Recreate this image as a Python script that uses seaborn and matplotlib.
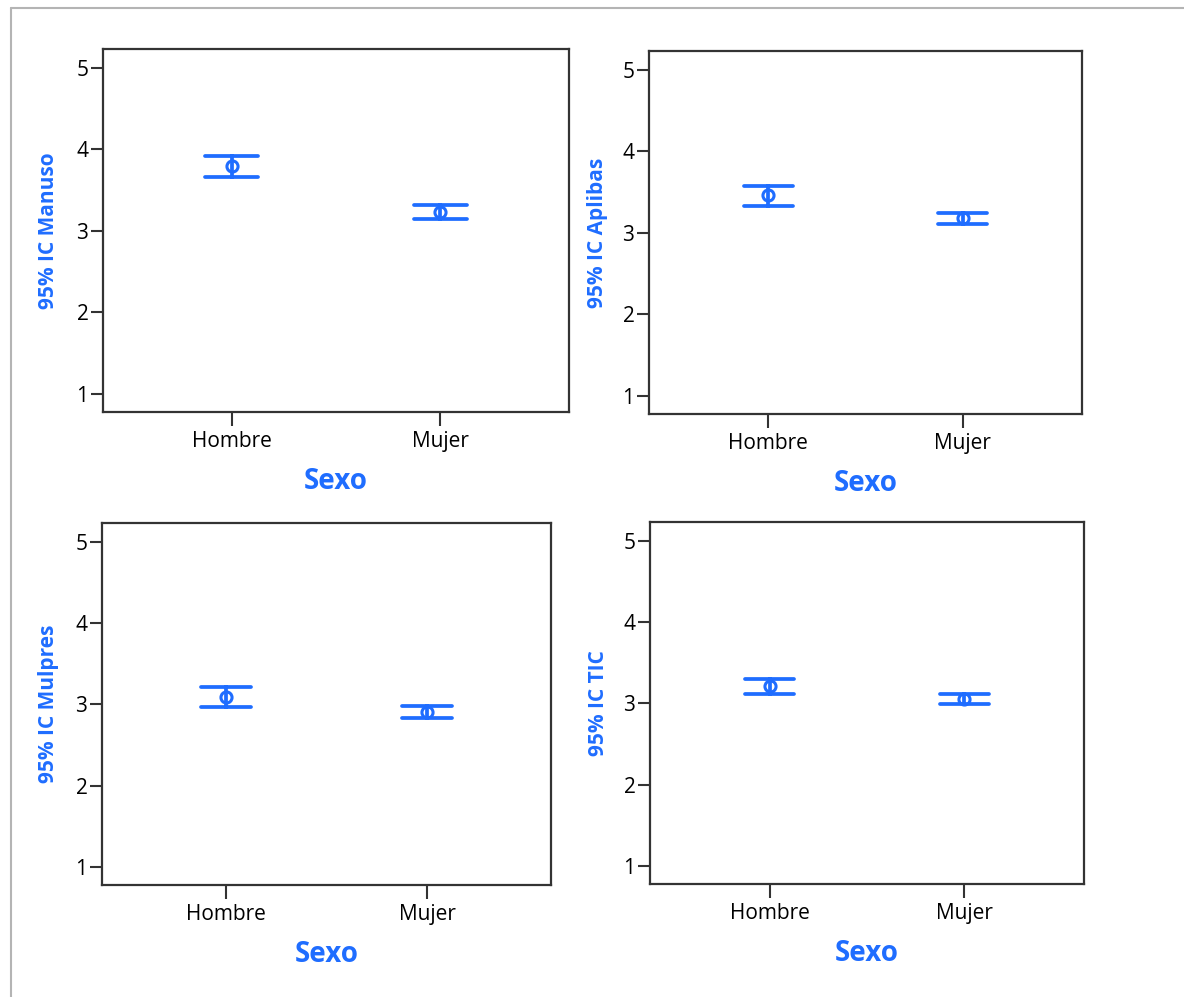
import numpy as np
import pandas as pd
import matplotlib
matplotlib.use("Agg")
import matplotlib.pyplot as plt
from matplotlib.lines import Line2D
import seaborn as sns

# ---- data ----
categories = ["Hombre", "Mujer"]
variables = ["Manuso", "Aplibas", "Mulpres", "TIC"]
ylabels = ["95% IC Manuso", "95% IC Aplibas", "95% IC Mulpres", "95% IC TIC"]
xlabel_text = "Sexo"
yticks = [1, 2, 3, 4, 5]

manuso_mean = [3.79, 3.23]
manuso_low = [3.66, 3.15]
manuso_high = [3.92, 3.32]

aplibas_mean = [3.46, 3.18]
aplibas_low = [3.33, 3.11]
aplibas_high = [3.58, 3.25]

mulpres_mean = [3.09, 2.905]
mulpres_low = [2.97, 2.83]
mulpres_high = [3.21, 2.98]

tic_mean = [3.21, 3.05]
tic_low = [3.11, 2.99]
tic_high = [3.30, 3.115]

series = {
    "Manuso": (manuso_low, manuso_mean, manuso_high),
    "Aplibas": (aplibas_low, aplibas_mean, aplibas_high),
    "Mulpres": (mulpres_low, mulpres_mean, mulpres_high),
    "TIC": (tic_low, tic_mean, tic_high),
}

rows = []
for var, (lo, mu, hi) in series.items():
    for i, cat in enumerate(categories):
        for v in (lo[i], mu[i], hi[i]):
            rows.append({"variable": var, "Sexo": cat, "value": v})
df = pd.DataFrame(rows)

# ---- style ----
sns.set_style("ticks")
plt.rcParams["font.family"] = ["Open Sans", "DejaVu Sans"]
BLUE = "#1f6dff"
SPINE = "#333333"

W, H = 1184, 997
fig = plt.figure(figsize=(W / 100, H / 100), dpi=100)
fig.patch.set_facecolor("white")

# axes boxes in pixels: left, top, right, bottom
boxes = [
    (103, 49, 569, 412),
    (649, 51, 1082, 414),
    (102, 523, 551, 885),
    (650, 522, 1084, 884),
]

for var, ylab, (l, t, r, b) in zip(variables, ylabels, boxes):
    ax = fig.add_axes([l / W, 1 - b / H, (r - l) / W, (b - t) / H])
    sub = df[df["variable"] == var]
    sns.pointplot(
        data=sub, x="Sexo", y="value", order=categories,
        estimator="median",
        errorbar=lambda v: (v.min(), v.max()),
        capsize=0.25, color=BLUE, linestyle="none",
        marker="o", markersize=8, markerfacecolor="none",
        markeredgewidth=2.2,
        err_kws={"linewidth": 2.7, "solid_capstyle": "round"},
        ax=ax,
    )
    ax.set_xlim(-0.615, 1.615)
    ax.set_ylim(0.78, 5.23)
    ax.set_yticks(yticks)
    ax.set_yticklabels([str(v) for v in yticks])
    for s in ax.spines.values():
        s.set_visible(True)
        s.set_color(SPINE)
        s.set_linewidth(1.6)
    ax.tick_params(axis="y", length=8.5, width=1.5, color=SPINE, pad=2,
                   labelsize=15, labelcolor="black")
    ax.tick_params(axis="x", length=10, width=1.5, color=SPINE, pad=4,
                   labelsize=15, labelcolor="black")
    ax.set_ylabel(ylab, color=BLUE, fontsize=15, fontweight="bold")
    ax.yaxis.set_label_coords(-0.095, 0.5)
    ax.set_xlabel(xlabel_text, color=BLUE, fontsize=20, fontweight="bold")
    ax.xaxis.set_label_coords(0.5, -0.152)
    ax.grid(False)

# light gray frame lines at top and left of the figure
fig.add_artist(Line2D([10.5 / W, 10.5 / W], [0, 1 - 8 / H],
                      transform=fig.transFigure, color="#b4b4b4", lw=1.5))
fig.add_artist(Line2D([10.5 / W, 1], [1 - 8 / H, 1 - 8 / H],
                      transform=fig.transFigure, color="#b4b4b4", lw=1.5))

fig.savefig("out.png", dpi=100, facecolor="white")
